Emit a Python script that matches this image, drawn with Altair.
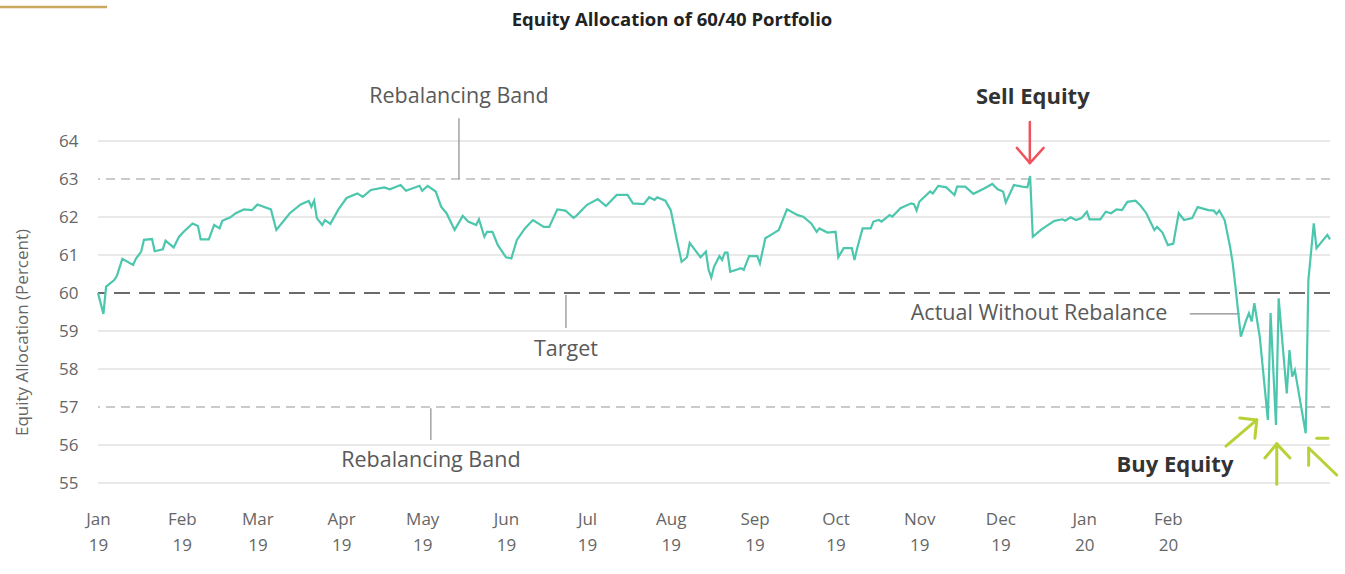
import altair as alt
import pandas as pd

# ---- data (days since 2019-01-01, equity allocation %) ----
days = [0, 2, 3, 6, 7, 9, 13, 14, 16, 17, 20, 21, 24, 25, 28, 30, 32, 35, 37, 38, 41, 43, 45, 46, 49, 51,
        54, 57, 59, 64, 66, 71, 75, 78, 79, 80, 81, 83, 84, 86, 89, 92, 96, 98, 101, 106, 108, 112, 114,
        119, 120, 122, 125, 127, 129, 132, 135, 137, 140, 141, 143, 144, 146, 148, 151, 153, 155, 158,
        161, 165, 167, 170, 173, 176, 177, 181, 185, 188, 192, 196, 198, 202, 204, 206, 207, 210, 212,
        214, 216, 218, 219, 223, 225, 226, 227, 228, 230, 231, 232, 233, 234, 238, 239, 241, 244, 245,
        247, 250, 252, 255, 259, 261, 264, 266, 267, 270, 273, 274, 276, 279, 280, 281, 283, 286, 287,
        289, 290, 293, 294, 297, 301, 302, 303, 304, 308, 309, 311, 314, 317, 318, 321, 324, 328, 331,
        333, 335, 336, 339, 342, 344, 345, 346, 349, 351, 354, 357, 358, 360, 362, 364, 366, 367, 371,
        373, 375, 377, 379, 381, 384, 386, 388, 391, 392, 394, 396, 398, 400, 402, 405, 407, 411, 413,
        414, 415, 417, 419, 420, 421, 423, 425, 426, 427, 428, 430, 433, 434, 436, 437, 440, 441, 442,
        443, 447, 448, 450, 451, 455, 456]
alloc = [60.0, 59.45, 60.17, 60.34, 60.45, 60.9, 60.74, 60.9, 61.09, 61.4, 61.42, 61.1, 61.15, 61.38,
         61.2, 61.48, 61.63, 61.83, 61.76, 61.41, 61.41, 61.79, 61.7, 61.9, 61.99, 62.1, 62.2, 62.18,
         62.33, 62.2, 61.66, 62.1, 62.33, 62.42, 62.27, 62.43, 61.97, 61.79, 61.92, 61.82, 62.2, 62.5,
         62.62, 62.53, 62.71, 62.78, 62.73, 62.84, 62.69, 62.82, 62.69, 62.82, 62.67, 62.27, 62.1, 61.66,
         62.03, 61.88, 61.79, 61.94, 61.48, 61.61, 61.61, 61.26, 60.94, 60.91, 61.39, 61.7, 61.92, 61.74,
         61.74, 62.2, 62.17, 61.98, 62.03, 62.32, 62.47, 62.29, 62.58, 62.58, 62.36, 62.34, 62.52, 62.45,
         62.52, 62.43, 62.18, 61.48, 60.82, 60.94, 61.32, 60.94, 61.09, 60.61, 60.41, 60.69, 60.97, 60.87,
         61.06, 61.06, 60.56, 60.65, 60.61, 60.97, 60.97, 60.78, 61.44, 61.57, 61.66, 62.2, 62.05, 62.01,
         61.83, 61.61, 61.7, 61.59, 61.61, 60.94, 61.18, 61.18, 60.87, 61.18, 61.7, 61.7, 61.88, 61.92,
         61.88, 62.05, 62.01, 62.23, 62.36, 62.34, 62.17, 62.4, 62.67, 62.62, 62.82, 62.78, 62.58, 62.8,
         62.8, 62.61, 62.75, 62.87, 62.73, 62.67, 62.38, 62.84, 62.8, 62.78, 63.08, 61.48, 61.66, 61.76,
         61.9, 61.94, 61.9, 61.99, 61.92, 61.97, 62.14, 61.94, 61.94, 62.14, 62.1, 62.2, 62.18, 62.4,
         62.43, 62.29, 62.1, 61.66, 61.74, 61.59, 61.26, 61.3, 62.1, 61.92, 61.97, 62.26, 62.18, 62.17,
         62.08, 62.17, 61.92, 61.22, 60.78, 60.17, 58.85, 59.29, 59.47, 59.25, 59.73, 58.85, 56.66, 59.47,
         56.53, 59.86, 57.36, 58.5, 57.8, 57.97, 56.31, 60.34, 61.83, 61.18, 61.53, 61.41]

grid_solid = [55, 56, 58, 59, 61, 62, 64]
grid_band = [57, 63]
grid_target = [60]
y_ticks = list(range(55, 65))
tick_months = [(2019, m) for m in range(1, 13)] + [(2020, 1), (2020, 2)]
x_end_day = 456

title_text = ["Equity Allocation of 60/40 Portfolio"]

ann_text = ["Rebalancing Band", "Target", "Rebalancing Band", "Actual Without Rebalance"]
ann_day = [133.6, 173.2, 123.2, 348.3]
ann_val = [65.16, 58.5, 55.58, 59.45]

bold_text = ["Sell Equity", "Buy Equity"]
bold_day = [346.0, 398.6]
bold_val = [65.16, 55.47]

# leader lines (start day, start value, end day, end value)
lead_d1 = [133.6, 173.2, 123.2, 404.1]
lead_v1 = [64.6, 59.95, 56.97, 59.45]
lead_d2 = [133.6, 173.2, 123.2, 422.6]
lead_v2 = [63.0, 59.08, 56.13, 59.45]

# red "sell" arrow segments
red_d1 = [344.9, 344.9, 344.9]
red_v1 = [64.5, 63.42, 63.42]
red_d2 = [344.9, 340.1, 350.0]
red_v2 = [63.42, 63.82, 63.82]

# green "buy" arrow segments
grn_d1 = [417.5, 428.9, 428.9, 436.3, 436.3, 436.3, 458.5, 448.1, 451.1]
grn_v1 = [55.97, 56.66, 56.66, 54.97, 56.03, 56.03, 55.21, 55.92, 56.18]
grn_d2 = [428.9, 422.6, 428.2, 436.3, 431.9, 441.2, 448.1, 448.1, 455.2]
grn_v2 = [56.66, 56.71, 56.18, 56.03, 55.66, 55.66, 55.92, 55.47, 56.18]

# ---- build tables ----
base = pd.Timestamp("2019-01-01")


def to_date(d):
    return base + pd.to_timedelta(d, unit="D")


line_df = pd.DataFrame({"x": [to_date(d) for d in days], "y": alloc})


def seg_df(d1, v1, d2, v2):
    return pd.DataFrame({"x": [to_date(d) for d in d1], "y": v1,
                         "x2": [to_date(d) for d in d2], "y2": v2})


FONT = "Open Sans"
TXT = "#5a5a5a"
AX = "#666666"
x_dom = [to_date(0).isoformat(), to_date(x_end_day).isoformat()]
y_dom = [54.5, 66.0]

xs = alt.Scale(domain=x_dom)
ys = alt.Scale(domain=y_dom, nice=False, zero=False)

tick_values = [alt.DateTime(year=y, month=m, date=1) for (y, m) in tick_months]

X_AX = alt.Axis(title=None, values=tick_values, domain=False, ticks=False, tickSize=0, grid=False,
                labelExpr="[timeFormat(datum.value, '%b'), timeFormat(datum.value, '%y')]",
                labelFont=FONT, labelFontSize=17, labelColor=AX,
                labelBaseline="top", labelPadding=9, labelLineHeight=26,
                labelAlign="center", labelOverlap=False)
Y_AX = alt.Axis(title="Equity Allocation (Percent)", values=y_ticks, domain=False, ticks=False,
                tickSize=0, grid=False, labelFont=FONT, labelFontSize=17, labelColor=AX,
                labelPadding=20, titleFont=FONT, titleFontSize=17, titleFontWeight="normal",
                titleColor=AX, titleAngle=270, titleX=-76, titleY=267,
                titleAlign="center", titleBaseline="middle")


def xenc(field="x"):
    return alt.X(f"{field}:T", scale=xs, axis=X_AX)


def yenc(field="y"):
    return alt.Y(f"{field}:Q", scale=ys, axis=Y_AX)


line = alt.Chart(line_df).mark_line(color="#4cc7ae", strokeWidth=2.2).encode(x=xenc(), y=yenc())

grid1 = alt.Chart(pd.DataFrame({"y": grid_solid})).mark_rule(color="#e2e2e2", strokeWidth=1.5).encode(
    y=yenc())
grid2 = alt.Chart(pd.DataFrame({"y": grid_band})).mark_rule(
    color="#b9b9b9", strokeWidth=1.5, strokeDash=[9, 6]).encode(y=yenc())
grid3 = alt.Chart(pd.DataFrame({"y": grid_target})).mark_rule(
    color="#6a6a6a", strokeWidth=2, strokeDash=[16, 9]).encode(y=yenc())

leaders = alt.Chart(seg_df(lead_d1, lead_v1, lead_d2, lead_v2)).mark_rule(
    color="#8a8a8a", strokeWidth=1.2).encode(x=xenc(), x2="x2:T", y=yenc(), y2="y2:Q")

red = alt.Chart(seg_df(red_d1, red_v1, red_d2, red_v2)).mark_rule(
    color="#f0525c", strokeWidth=2.5, strokeCap="round").encode(x=xenc(), x2="x2:T", y=yenc(), y2="y2:Q")

green = alt.Chart(seg_df(grn_d1, grn_v1, grn_d2, grn_v2)).mark_rule(
    color="#b9d136", strokeWidth=3, strokeCap="round").encode(x=xenc(), x2="x2:T", y=yenc(), y2="y2:Q")

ann = alt.Chart(pd.DataFrame({"t": ann_text, "x": [to_date(d) for d in ann_day], "y": ann_val})).mark_text(
    font=FONT, fontSize=21.5, color=TXT, align="center", baseline="middle").encode(
    x=xenc(), y=yenc(), text="t:N")

bold = alt.Chart(pd.DataFrame({"t": bold_text, "x": [to_date(d) for d in bold_day], "y": bold_val})).mark_text(
    font=FONT, fontSize=22, fontWeight="bold", color="#333333", align="center", baseline="middle").encode(
    x=xenc(), y=yenc(), text="t:N")

title = alt.Chart(pd.DataFrame({"t": title_text})).mark_text(
    font=FONT, fontSize=18.5, fontWeight="bold", color="#222222", align="center", baseline="middle").encode(
    x=alt.value(574), y=alt.value(-45), text="t:N")

gold = alt.Chart(pd.DataFrame({"t": title_text})).mark_rule(color="#c9a860", strokeWidth=2.5).encode(
    x=alt.value(-98), x2=alt.value(9), y=alt.value(-58))

chart = alt.layer(grid1, grid2, grid3, leaders, line, red, green, ann, bold, title, gold).properties(
    width=1232, height=437,
    background="white",
    autosize=alt.AutoSizeParams(type="none"),
    padding={"left": 98, "top": 65, "right": 15, "bottom": 72},
).configure_view(stroke=None)

chart.save("out.html", embed_options={"renderer": "svg", "actions": False})
